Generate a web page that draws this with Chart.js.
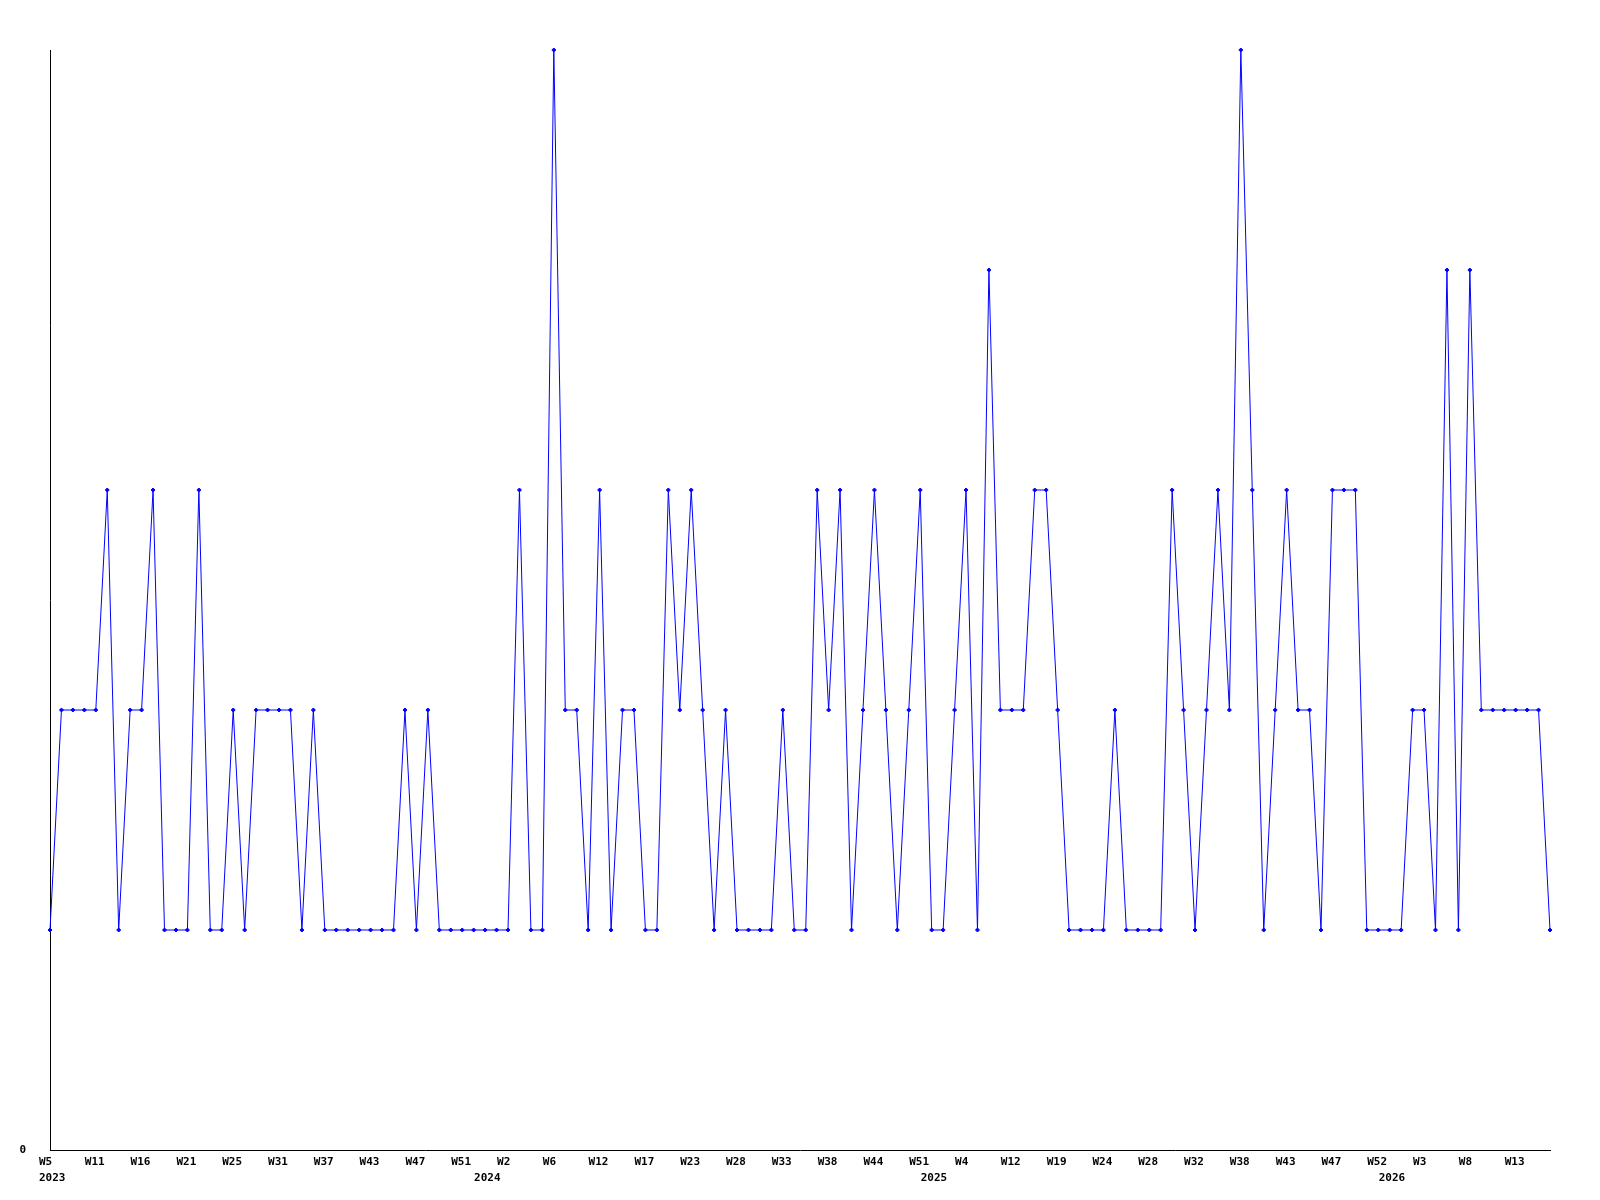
<!DOCTYPE html>
<html>
<head>
<meta charset="utf-8">
<title>Weekly counts</title>
<script src="https://cdn.jsdelivr.net/npm/chart.js@4.4.1/dist/chart.umd.min.js"></script>
<style>
  body { margin: 0; background: #fff; }
</style>
</head>
<body>
<canvas id="chartWeeks" width="1600" height="1200"></canvas>
<script>
// week labels, one every 4th point
var weekLabels = ["W5", "W11", "W16", "W21", "W25", "W31", "W37", "W43", "W47", "W51",
    "W2", "W6", "W12", "W17", "W23", "W28", "W33", "W38", "W44", "W51",
    "W4", "W12", "W19", "W24", "W28", "W32", "W38", "W43", "W47", "W52",
    "W3", "W8", "W13"];
var yearLabels = ["2023", "2024", "2025", "2026"];
var yearStart = [0, 38, 77, 117]; // point where each year begins
var labelEvery = 4;

var values = [
    1, 2, 2, 2, 2, 3, 1, 2, 2, 3,
    1, 1, 1, 3, 1, 1, 2, 1, 2, 2,
    2, 2, 1, 2, 1, 1, 1, 1, 1, 1,
    1, 2, 1, 2, 1, 1, 1, 1, 1, 1,
    1, 3, 1, 1, 5, 2, 2, 1, 3, 1,
    2, 2, 1, 1, 3, 2, 3, 2, 1, 2,
    1, 1, 1, 1, 2, 1, 1, 3, 2, 3,
    1, 2, 3, 2, 1, 2, 3, 1, 1, 2,
    3, 1, 4, 2, 2, 2, 3, 3, 2, 1,
    1, 1, 1, 2, 1, 1, 1, 1, 3, 2,
    1, 2, 3, 2, 5, 3, 1, 2, 3, 2,
    2, 1, 3, 3, 3, 1, 1, 1, 1, 2,
    2, 1, 4, 1, 4, 2, 2, 2, 2, 2,
    2, 1
];

// build the category labels (week on first line, year on second)
var categories = values.map(function(v, i){
    var week = (i % labelEvery === 0 && weekLabels[i / labelEvery]) ? weekLabels[i / labelEvery] : "";
    var y = yearStart.indexOf(i);
    if (y >= 0) return [week, yearLabels[y]];
    return week;
});

var tickFont = {family: "'DejaVu Sans Mono', monospace", size: 11, weight: "bold", lineHeight: 1.45};

var ctx = document.getElementById("chartWeeks").getContext("2d");
var myLineChart = new Chart(ctx, {
    type: 'line',
    data: {
        labels: categories,
        datasets: [{
            data: values,
            borderColor: "rgb(0,0,255)",
            backgroundColor: "rgb(0,0,255)",
            borderWidth: 1,
            tension: 0,
            fill: false,
            pointStyle: 'rectRot',
            pointRadius: 2,
            pointBorderWidth: 1,
            pointBackgroundColor: "rgb(0,0,255)",
            clip: false
        }]
    },
    options: {
        responsive: false,
        animation: false,
        layout: {padding: {top: 50, right: 50, bottom: 0, left: 0}},
        plugins: {legend: {display: false}, tooltip: {enabled: false}},
        scales: {
            x: {
                offset: false,
                grid: {display: false, drawTicks: false},
                border: {display: true, color: "#000", width: 1},
                ticks: {
                    autoSkip: false,
                    maxRotation: 0,
                    minRotation: 0,
                    align: 'start',
                    labelOffset: -11,
                    padding: 4,
                    color: "#000",
                    font: tickFont
                },
                afterFit: function(s){ s.height = 50; }
            },
            y: {
                min: 0,
                max: 5,
                grid: {display: false, drawTicks: false},
                border: {display: true, color: "#000", width: 1},
                ticks: {
                    stepSize: 5,
                    padding: 24,
                    color: "#000",
                    font: tickFont,
                    callback: function(v){ return v === 0 ? "0" : ""; }
                },
                afterFit: function(s){ s.width = 50; }
            }
        }
    }
});
</script>
</body>
</html>
